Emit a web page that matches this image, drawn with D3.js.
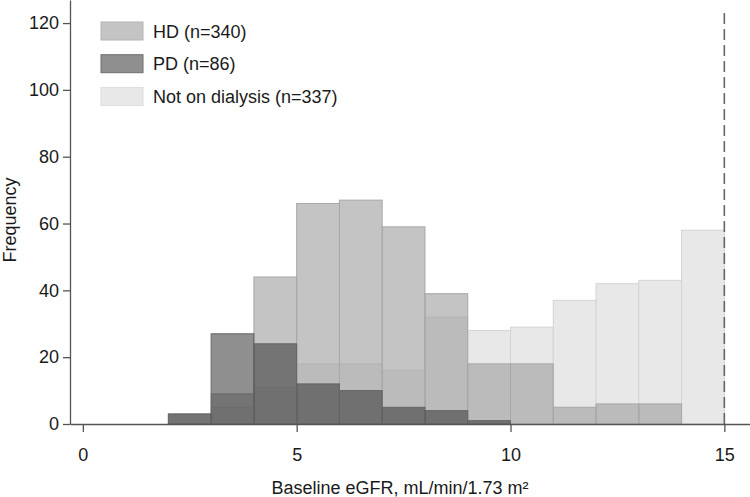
<!DOCTYPE html>
<html>
<head>
<meta charset="utf-8">
<script src="https://cdn.jsdelivr.net/npm/d3@7"></script>
<style>
  body { margin: 0; background: #fff; }
  text { font-family: "Liberation Sans", Arial, sans-serif; fill: #1a1a1a; }
</style>
</head>
<body>
<div id="chart"></div>
<script>
// histogram bins (lower edge, width 1)
const binStarts = [2, 3, 4, 5, 6, 7, 8, 9, 10, 11, 12, 13, 14]
const hdCounts = [3, 9, 44, 66, 67, 59, 39, 18, 18, 5, 6, 6, 0]
const pdCounts = [3, 27, 24, 12, 10, 5, 4, 1, 0, 0, 0, 0, 0]
const ndCounts = [0, 5, 11, 18, 18, 16, 32, 28, 29, 37, 42, 43, 58]
const binWidth = 1
const xTicks = [0, 5, 10, 15]
const yTicks = [0, 20, 40, 60, 80, 100, 120]
const cutoff = 15
const legendLabels = ['HD (n=340)', 'PD (n=86)', 'Not on dialysis (n=337)']

const width = 750
const height = 497
const margins = { top: 0, right: 0, bottom: 73, left: 70 }
const fontSize = '18px'

const svg = d3.select('#chart').append('svg')
    .attr('width', width)
    .attr('height', height)

const xScale = d3.scaleLinear()
    .domain([-0.3, 15.6])
    .range([margins.left, width - margins.right])

const yScale = d3.scaleLinear()
    .domain([0, 126.9])
    .range([height - margins.bottom, margins.top])

// drawn bottom to top: not on dialysis, HD, PD
const series = [
    { name: 'nd', counts: ndCounts, fill: '#e8e8e8', opacity: 1, stroke: '#d4d4d4' },
    { name: 'hd', counts: hdCounts, fill: '#9e9e9e', opacity: 0.61, stroke: '#a8a8a8' },
    { name: 'pd', counts: pdCounts, fill: '#303030', opacity: 0.54, stroke: '#656565' }
]

series.forEach(s => {
    const bins = binStarts.map((b, i) => ({ x0: b, x1: b + binWidth, n: s.counts[i] }))
        .filter(d => d.n > 0)
    svg.append('g')
        .attr('class', 'bars-' + s.name)
        .selectAll('rect')
        .data(bins)
        .join('rect')
        .attr('x', d => xScale(d.x0))
        .attr('width', d => xScale(d.x1) - xScale(d.x0))
        .attr('y', d => yScale(d.n))
        .attr('height', d => yScale(0) - yScale(d.n))
        .attr('fill', s.fill)
        .attr('fill-opacity', s.opacity)
        .attr('stroke', s.stroke)
        .attr('stroke-width', 1)
})

// dashed reference line at eGFR 15
svg.append('line')
    .attr('x1', xScale(cutoff))
    .attr('x2', xScale(cutoff))
    .attr('y1', yScale(0))
    .attr('y2', 11)
    .attr('stroke', '#666')
    .attr('stroke-width', 1.6)
    .attr('stroke-dasharray', '11,5')

// axes
const xAxis = svg.append('g')
    .attr('class', 'x-axis')
    .attr('transform', 'translate(0,' + yScale(0) + ')')
    .call(d3.axisBottom(xScale).tickValues(xTicks).tickSize(8).tickSizeOuter(0).tickPadding(16))
const yAxis = svg.append('g')
    .attr('class', 'y-axis')
    .attr('transform', 'translate(' + margins.left + ',0)')
    .call(d3.axisLeft(yScale).tickValues(yTicks).tickSize(7).tickSizeOuter(0).tickPadding(4))

;[xAxis, yAxis].forEach(a => {
    a.selectAll('path, line').attr('stroke', '#555').attr('stroke-width', 1.3)
    a.selectAll('text').style('font-size', fontSize).attr('fill', '#1a1a1a')
})

svg.append('text')
    .attr('x', 400)
    .attr('y', 494)
    .attr('text-anchor', 'middle')
    .style('font-size', fontSize)
    .text('Baseline eGFR, mL/min/1.73 m²')

svg.append('text')
    .attr('transform', 'translate(16,220) rotate(-90)')
    .attr('text-anchor', 'middle')
    .style('font-size', fontSize)
    .text('Frequency')

// legend
const legend = svg.append('g').attr('class', 'legend')
const legendFills = ['#c4c4c4', '#8f8f8f', '#e8e8e8']
const legendStrokes = ['#b4b4b4', '#6e6e6e', '#dcdcdc']
legendLabels.forEach((lbl, i) => {
    const g = legend.append('g').attr('transform', 'translate(101,' + (22 + i * 32.7) + ')')
    g.append('rect')
        .attr('width', 42)
        .attr('height', 18)
        .attr('fill', legendFills[i])
        .attr('stroke', legendStrokes[i])
    g.append('text')
        .attr('x', 52)
        .attr('y', 15.5)
        .style('font-size', fontSize)
        .text(lbl)
})
</script>
</body>
</html>
